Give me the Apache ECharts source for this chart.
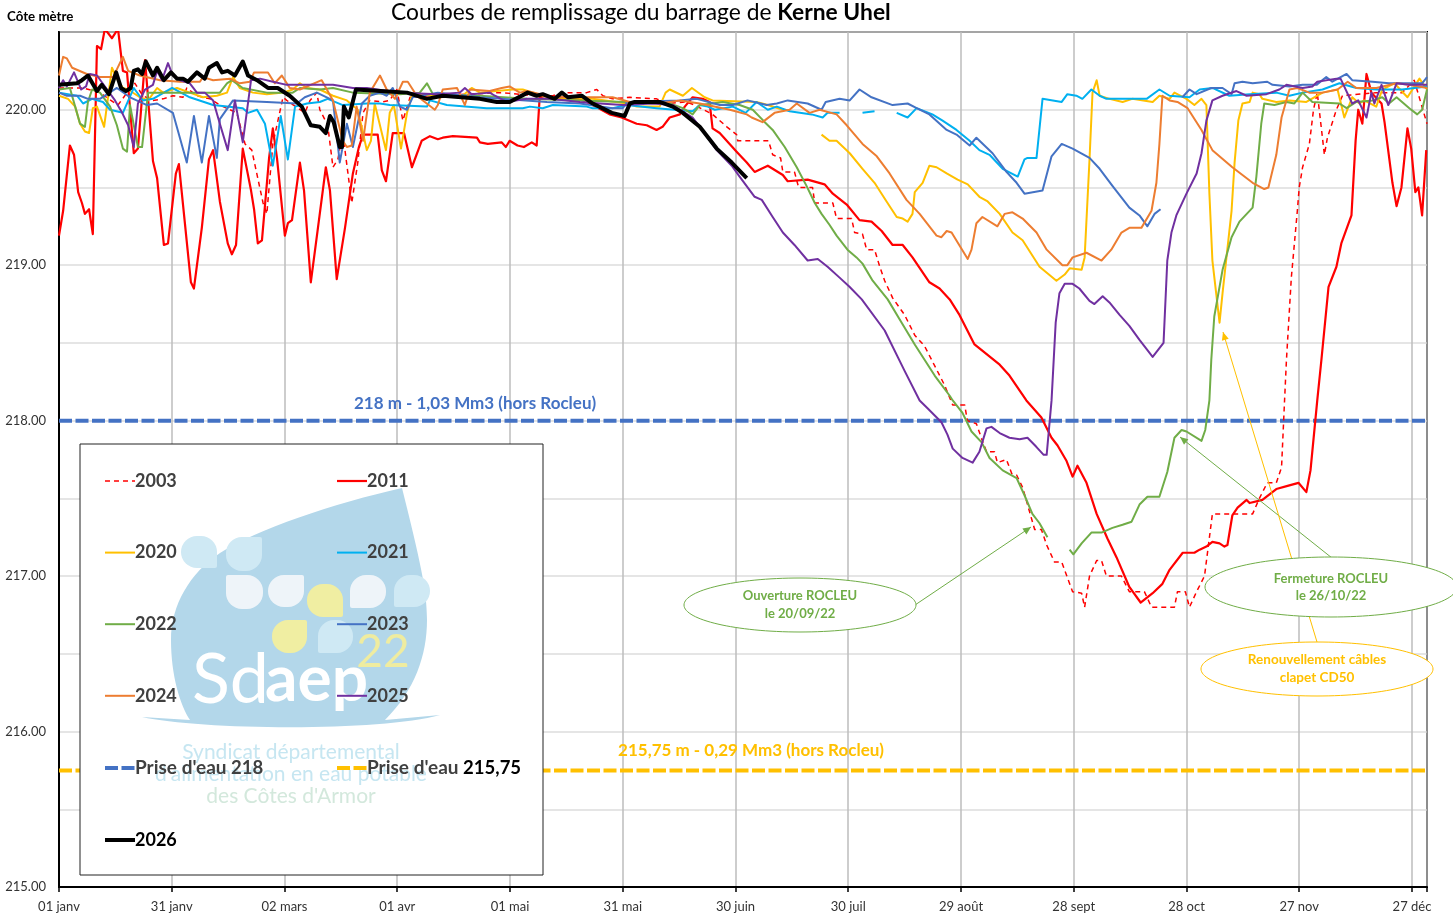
<!DOCTYPE html>
<html><head><meta charset="utf-8">
<script src="https://cdn.jsdelivr.net/npm/echarts@6/dist/echarts.min.js"></script>
<style>html,body{margin:0;padding:0;background:#fff}#c{width:1453px;height:918px}</style>
</head><body><div id="c"></div>
<script>
const xTickLabels=["01 janv","31 janv","02 mars","01 avr","01 mai","31 mai","30 juin","30 juil","29 août","28 sept","28 oct","27 nov","27 déc"];
const s2003=[[0,220.14],[6.4,220.14],[10.9,220.11],[14.4,220.05],[15.7,220.03],[18.1,220.11],[20.2,220.17],[22.3,220.09],[25,220.06],[27.7,220.07],[30.3,220.09],[33,220.08],[34,220.14],[36.7,220.09],[40.2,220.07],[42.8,220.03],[47.3,219.98],[49.5,219.78],[51.3,219.74],[54.3,219.40],[55.3,219.33],[56.9,219.78],[59.6,220.08],[60.6,220.06],[65.4,219.98],[66.8,220.06],[68.6,220.11],[69.4,220.00],[71.5,219.90],[72.9,219.63],[74.2,219.68],[75.5,219.85],[77.9,219.40],[79.5,219.66],[80.9,219.98],[82.7,220.06],[85.9,220.05],[88,220.06],[89.9,220.13],[91.5,219.93],[93.4,220.08],[98.7,220.09],[117.8,220.11],[127.1,220.09],[131.4,220.09],[134,220.11],[137.8,220.11],[140.4,220.11],[143.1,220.13],[144.7,220.09],[147.3,220.07],[151.9,220.08],[159,220.07],[161.7,220.04],[167,220.05],[169.1,220.03],[173.9,219.97],[177.7,219.89],[180.3,219.84],[180.6,219.80],[188.8,219.80],[189.9,219.71],[192,219.69],[192.6,219.60],[195.7,219.60],[196.8,219.50],[200.5,219.50],[201.1,219.40],[205.9,219.40],[206.9,219.30],[210.9,219.30],[211.7,219.21],[213.8,219.20],[214.9,219.10],[217,219.10],[218.4,218.99],[219.7,218.90],[221.8,218.79],[225,218.68],[227.7,218.55],[230.3,218.48],[235.6,218.23],[237.8,218.10],[241,218.10],[241.7,218.00],[244.1,217.98],[245.7,217.87],[246.8,217.80],[248.9,217.80],[249.7,217.73],[252.1,217.75],[253.5,217.66],[254.8,217.65],[256.4,217.57],[259.6,217.30],[261.4,217.30],[262.8,217.20],[264.9,217.09],[266.8,217.09],[269.7,216.90],[272.1,216.89],[272.9,216.80],[274.2,217.00],[276.1,217.10],[277.4,217.10],[278.7,217.00],[282.7,217.00],[284.8,216.90],[288.8,216.90],[290.7,216.80],[296.8,216.80],[297.6,216.90],[299.7,216.90],[300.8,216.80],[302.7,216.90],[304.8,217.00],[306.9,217.40],[317.6,217.40],[319.4,217.50],[321.5,217.60],[323.9,217.60],[325.3,217.70],[326.1,218.13],[326.6,218.39],[327.9,218.92],[329.5,219.35],[330,219.50],[330.9,219.63],[332.7,219.78],[333.8,220.00],[334.8,220.11],[336.7,219.71],[337.5,219.82],[339.9,220.00],[341.5,220.09],[350.5,220.11],[357.4,220.11],[360.6,220.19],[364,219.91]];
const s2011=[[0,219.19],[1.1,219.35],[2.9,219.77],[4,219.71],[5.1,219.47],[6.1,219.40],[6.9,219.33],[8,219.36],[9,219.20],[10.1,220.41],[11.2,220.39],[12.2,220.52],[14.1,220.46],[15.7,220.52],[17,220.25],[18.1,220.24],[19.9,219.72],[21,219.75],[22.9,220.32],[25,219.67],[26.1,219.56],[27.9,219.13],[29,219.14],[31.1,219.59],[31.9,219.65],[35.1,218.89],[35.9,218.85],[38,219.24],[39.9,219.68],[41,219.74],[42.8,219.41],[44.9,219.14],[46,219.07],[47.1,219.13],[48.9,219.75],[51.1,219.48],[51.9,219.36],[52.9,219.14],[54,219.16],[55.9,219.69],[56.9,219.88],[58,219.69],[60.1,219.19],[60.9,219.27],[62,219.29],[64.1,219.66],[65.2,219.48],[67,218.89],[68.9,219.24],[71,219.63],[72.1,219.48],[73.9,218.91],[76.1,219.24],[78.2,219.59],[79.8,219.76],[80.9,219.84],[84.8,219.84],[85.9,219.61],[87,219.54],[88.8,219.85],[91.8,219.85],[93.9,219.63],[96.5,219.80],[98.7,219.83],[100.8,219.81],[102.1,219.82],[104.8,219.83],[111.2,219.82],[112,219.79],[114.1,219.78],[117.8,219.79],[118.9,219.76],[119.9,219.80],[122,219.77],[123.7,219.76],[125.8,219.79],[127.1,219.77],[127.9,220.08],[129.8,220.09],[133.3,220.08],[138.6,220.07],[142,220.03],[146.5,219.97],[149.7,219.95],[153.7,219.91],[156.4,219.90],[159,219.87],[160.6,219.89],[162.5,219.95],[165.2,219.97],[166.5,220.02],[168.6,220.08],[171.3,220.07],[173.1,220.05],[173.9,219.88],[175.8,219.85],[180.3,219.73],[183,219.66],[185.1,219.60],[188.6,219.64],[192.6,219.58],[193.9,219.54],[199.2,219.55],[203.7,219.52],[205.9,219.46],[209.6,219.39],[213,219.29],[216.2,219.28],[218.9,219.22],[221.8,219.13],[224.5,219.13],[227.1,219.05],[231.6,218.89],[234.3,218.85],[237,218.78],[239.6,218.68],[243.6,218.49],[250.3,218.36],[252.9,218.29],[257.4,218.13],[261.4,218.02],[264.1,217.89],[265.7,217.84],[268.1,217.74],[269.7,217.64],[271,217.71],[273.4,217.60],[276.1,217.40],[279,217.24],[281.4,217.12],[284.8,216.93],[287.8,216.83],[291,216.89],[293.6,216.95],[295.5,217.04],[299,217.15],[302.1,217.15],[303.5,217.17],[305.3,217.19],[306.9,217.22],[308.8,217.21],[310.1,217.19],[310.9,217.20],[312.2,217.39],[313.6,217.44],[316,217.49],[316.8,217.47],[320.2,217.49],[323.9,217.56],[326.9,217.58],[329.8,217.60],[331.9,217.54],[333,217.68],[334.8,218.13],[335.9,218.39],[337.8,218.86],[339.9,218.99],[341.2,219.14],[343.9,219.32],[345,219.80],[345.7,220.00],[346.8,219.91],[347.9,220.23],[349.2,220.11],[351.9,220.04],[352.7,219.92],[354.8,219.53],[355.9,219.38],[357.2,219.50],[358.8,219.88],[359.8,219.75],[360.9,219.47],[361.7,219.50],[362.7,219.32],[363.8,219.74]];
const s2020=[[0,220.09],[2.4,220.07],[4.3,220.02],[5.6,219.91],[6.9,219.86],[8,219.85],[9,220.01],[10.1,220.02],[12,219.89],[14.1,220.27],[15.4,220.20],[17,220.14],[18.4,220.13],[21.5,220.08],[23.7,220.06],[26.1,220.14],[27.7,220.11],[31.4,220.14],[34.8,220.11],[38.3,220.08],[42,220.09],[44.7,220.11],[46.3,220.21],[48.1,220.14],[51.6,220.11],[55.3,220.10],[59.6,220.11],[62.2,220.13],[64.1,220.17],[66,220.14],[69.4,220.13],[72.9,220.09],[76.6,220.06],[79.5,220.00],[81.9,219.74],[83,219.80],[84,220.04],[87,219.74],[88,219.98],[89.1,220.03],[91,219.75],[92.6,219.98],[93.9,220.09],[96.8,220.10],[101.3,220.08],[107.4,220.09],[109.8,220.14],[112,220.11],[120.7,220.13],[123.4,220.13],[131.4,220.07],[137.8,220.07],[142,220.07],[151.1,220.04],[153.7,220.02],[159.8,220.02],[161.4,220.11],[162.5,220.13],[166,220.09],[168.4,220.14],[171.8,220.08],[173.9,220.06],[185.6,220.05],[188.6,220.03],[192.6,220.00],[197,null],[202.9,219.84],[205,219.80],[206.9,219.80],[210.4,219.72],[213.8,219.62],[217,219.53],[220.2,219.41],[222.9,219.31],[224.5,219.30],[225.8,219.28],[227.1,219.33],[227.7,219.47],[229.8,219.53],[231.6,219.64],[233.5,219.63],[236.2,219.59],[239.1,219.55],[241.8,219.52],[244.9,219.44],[247.1,219.41],[250.3,219.33],[253.7,219.21],[256.4,219.16],[260.9,218.99],[265.4,218.90],[267.6,218.94],[268.9,218.98],[272.1,218.97],[272.9,219.05],[274.2,219.68],[275,220.11],[276.1,220.19],[276.9,220.09],[279.5,220.07],[283,220.05],[285.6,220.07],[291,220.05],[292.8,220.09],[295.5,220.07],[296.8,220.11],[300,220.07],[302.1,220.03],[304,220.07],[305.3,220.03],[306.1,219.46],[306.9,219.03],[308.8,218.63],[309.6,218.82],[312,219.35],[312.8,219.66],[313.8,219.93],[314.9,220.04],[316.8,220.05],[317.6,220.11],[319.4,220.10],[320.2,220.07],[323.9,220.05],[327.4,220.06],[331.9,220.05],[336.2,220.11],[340.2,220.13],[342,219.95],[344.1,220.08],[346,220.04],[347.3,220.06],[350.5,220.02],[352.1,220.13],[355.3,220.17],[358.8,220.08],[362,220.20],[364,220.13]];
const s2021=[[0,220.11],[4.8,220.09],[6.4,220.04],[8.8,220.07],[11.7,220.05],[13.6,220.00],[17,219.98],[19.9,220.14],[22.3,220.06],[25,220.07],[30.1,220.14],[34.8,220.08],[41,220.03],[44.7,220.02],[48.9,220.01],[50.3,219.98],[52.7,220.00],[54.8,219.91],[56.9,219.64],[59,219.96],[60.9,219.68],[62.8,220.02],[66,220.04],[69.4,220.05],[71.5,220.07],[75.5,220.03],[81.9,220.04],[85.4,220.04],[88,220.03],[97.9,220.02],[98.7,220.06],[103.2,220.03],[113.8,220.01],[123.4,220.01],[125.3,220.02],[128.7,220.01],[131.4,220.03],[140.4,220.02],[142,220.01],[147.3,220.01],[151.1,220.03],[159,220.01],[168.6,219.99],[170.5,220.03],[172.6,220.02],[174.5,220.00],[179.3,220.02],[182.7,219.98],[185.6,220.05],[188.6,220.00],[191,220.02],[194.4,219.99],[200.3,219.97],[203.2,219.95],[204.5,219.98],[207.7,219.98],[210,null],[213.8,219.98],[217,219.99],[220,null],[222.9,219.98],[225.8,219.95],[228.2,220.01],[232.4,219.97],[235.1,219.93],[238.8,219.87],[242.3,219.80],[244.9,219.74],[247.6,219.71],[251.1,219.62],[255.1,219.57],[256.9,219.68],[257.7,219.69],[260.1,219.69],[261.7,220.07],[266.8,220.05],[268.3,220.10],[270.7,220.09],[272.3,220.07],[274.7,220.13],[276.9,220.09],[278.7,220.07],[283,220.07],[289.4,220.07],[292.8,220.13],[295.5,220.09],[300.8,220.08],[303.5,220.13],[306.9,220.14],[311.4,220.09],[316.8,220.10],[323.9,220.11],[327.4,220.09],[330.9,220.11],[336.2,220.13],[340.7,220.17],[345.2,220.14],[350.5,220.13],[357.4,220.13],[364,220.15]];
const s2022=[[0,220.13],[2.9,220.14],[4.3,220.02],[5.6,219.91],[6.9,219.89],[7.7,220.05],[8.8,220.13],[10.9,220.11],[13.6,220.02],[15.4,219.90],[17,219.75],[18.1,219.73],[18.9,220.03],[21,219.76],[22.1,219.76],[23.7,220.11],[37.5,220.11],[42.8,220.11],[44.7,220.17],[46,220.19],[48.9,220.14],[55.3,220.11],[62.2,220.11],[64.1,220.14],[69.4,220.13],[72.9,220.14],[78.2,220.11],[90.7,220.10],[96,220.11],[97.9,220.17],[99.5,220.10],[112,220.09],[124.5,220.07],[138.6,220.06],[162.5,220.04],[166,220.01],[168.6,219.97],[170.5,220.03],[173.9,220.04],[176.6,220.05],[181.1,220.03],[184.6,220.00],[187.8,219.92],[189.9,219.87],[193.1,219.76],[196.3,219.63],[198.9,219.51],[201.1,219.40],[202.9,219.33],[205,219.26],[206.9,219.19],[209.8,219.10],[212.2,219.05],[213.8,219.01],[216.5,218.90],[220.5,218.78],[223.7,218.65],[227.7,218.49],[233,218.29],[237,218.16],[237.8,218.13],[240.4,218.05],[242.8,217.93],[245.5,217.86],[247.6,217.76],[251.1,217.68],[254.8,217.63],[256.9,217.52],[259,217.40],[260.9,217.34],[263,217.25],[266,null],[268.9,217.17],[269.9,217.14],[272.1,217.21],[274.7,217.28],[277.4,217.28],[280.3,217.31],[283,217.33],[285.4,217.35],[287.5,217.46],[289.6,217.51],[292.8,217.51],[294.9,217.67],[296.8,217.89],[298.7,217.94],[300,217.93],[304,217.87],[305,217.94],[306.1,218.13],[306.6,218.39],[307.4,218.67],[309.6,218.97],[312,219.18],[314.1,219.28],[317.6,219.37],[318.6,219.57],[319.9,219.91],[320.7,220.04],[323.4,220.03],[326.6,220.05],[328.7,220.04],[330.9,220.11],[333.5,220.05],[340.7,220.04],[342.6,220.01],[345.2,220.05],[349.5,220.06],[352.1,220.08],[353.9,220.04],[355.9,220.08],[359.3,220.01],[361.4,219.97],[362.7,220.00],[364,220.13]];
const s2023=[[0,220.11],[2.1,220.09],[5.6,220.09],[7.7,220.07],[10.9,220.07],[15.4,220.14],[18.9,220.08],[23.4,220.03],[26.1,220.04],[30.3,219.98],[34,219.66],[35.9,219.96],[38,219.66],[39.9,219.96],[42,219.69],[42.8,219.94],[46.3,220.06],[55.3,220.05],[63.3,220.04],[65.4,220.08],[68.6,220.11],[72.9,220.06],[74.7,219.66],[76.6,219.91],[78.2,219.76],[80.6,220.04],[82.7,220.09],[85.4,220.11],[87.2,220.09],[88.8,220.14],[90.7,220.02],[92.6,220.00],[94.1,220.08],[100.8,220.11],[112,220.08],[129.8,220.05],[138.6,220.04],[147.3,220.01],[150,220.01],[151.3,220.05],[165.2,220.06],[169.7,220.07],[175.8,220.03],[179.3,220.03],[183.2,220.06],[188.3,220.03],[191,220.04],[193.9,220.06],[199.2,220.04],[202.9,220.00],[204,220.05],[207.7,220.07],[210.4,220.06],[213,220.13],[216.2,220.08],[221.8,220.03],[225.8,220.04],[228.2,220.01],[231.6,219.97],[236.2,219.87],[238.8,219.84],[242.3,219.77],[244.1,219.82],[248.4,219.72],[252.1,219.60],[254.8,219.53],[256.9,219.46],[261.7,219.48],[264.1,219.70],[266.8,219.78],[269.7,219.75],[274.2,219.69],[276.9,219.62],[280.3,219.51],[284.8,219.37],[287.5,219.32],[289.6,219.25],[291.5,219.33],[293.1,219.36],[295,null],[298.9,220.08],[300.8,220.13],[302.7,220.10],[306.6,220.14],[309.6,220.14],[312,220.10],[312.8,220.17],[314.9,220.18],[317.6,220.17],[321.5,220.18],[322.9,220.16],[327.4,220.15],[330.9,220.16],[334.6,220.16],[337.2,220.21],[338.8,220.18],[342.6,220.23],[344.1,220.19],[349.5,220.18],[353.9,220.17],[362.7,220.17],[364,220.21]];
const s2024=[[0,220.22],[1.1,220.34],[2.1,220.33],[3.5,220.27],[7.4,220.23],[10.9,220.21],[14.4,220.21],[17,220.34],[18.4,220.25],[21.5,220.22],[26.9,220.19],[32.2,220.18],[37.5,220.18],[38.3,220.21],[41,220.19],[45.5,220.20],[48.1,220.17],[50.8,220.18],[51.9,220.24],[55.6,220.24],[57.4,220.17],[59.3,220.22],[61.4,220.14],[64.1,220.13],[69.9,220.19],[72.9,220.06],[75.5,219.80],[76.6,219.76],[77.9,219.77],[79.2,220.02],[80.9,219.80],[82.7,220.11],[85.4,220.22],[87.2,220.13],[89.4,220.07],[91.5,220.18],[92.8,220.18],[95.2,220.09],[100,220.00],[100.8,220.03],[102.1,220.13],[105.9,220.14],[108,220.03],[109.3,220.13],[114.6,220.12],[117.8,220.14],[119.9,220.15],[122.6,220.11],[124.5,220.12],[131.4,220.08],[147.3,220.08],[151.9,220.05],[159.8,220.04],[165.2,220.06],[170.5,220.04],[178.5,220.00],[183,219.97],[184.3,219.95],[187.2,219.92],[190.4,219.98],[194.4,220.00],[196.3,220.04],[199.7,219.98],[202.4,220.00],[206.9,219.97],[209.6,219.90],[213.8,219.78],[217.6,219.70],[221,219.59],[225.5,219.42],[229,219.33],[233.5,219.19],[234.8,219.18],[236.2,219.22],[237.5,219.21],[241.8,219.04],[242.8,219.10],[244.1,219.27],[245.7,219.31],[249.7,219.25],[251.6,219.33],[253.7,219.34],[256.4,219.30],[260.1,219.21],[262.8,219.10],[267,219.00],[268.3,219.00],[269.7,219.05],[273.4,219.08],[277.4,219.03],[280,219.10],[282.7,219.21],[284.8,219.24],[288,219.24],[290.7,219.35],[292,219.53],[292.8,219.78],[293.6,220.09],[295.5,220.06],[297.6,220.05],[300.3,220.01],[304,219.87],[306.9,219.74],[312.2,219.63],[317.6,219.53],[320.7,219.49],[321.8,219.50],[323.9,219.71],[325.3,219.95],[327.4,220.13],[329.5,220.14],[332.7,220.11],[336.2,220.11],[340.2,220.13],[342.9,220.18],[345.2,220.14],[350.5,220.14],[355.9,220.17],[359.3,220.16],[364,220.14]];
const s2025=[[0,220.14],[1.1,220.19],[2.1,220.15],[4,220.24],[5.9,220.13],[7.2,220.15],[8.2,220.23],[10.1,220.22],[12.8,220.13],[14.9,220.06],[16.8,219.98],[18.4,219.90],[19.9,219.76],[21,220.04],[22.9,220.13],[25,220.16],[26.1,220.25],[27.4,220.19],[29,220.30],[30.3,220.22],[32.2,220.19],[34.8,220.17],[36.7,220.11],[38.8,220.11],[41,220.06],[42.8,219.91],[44.9,219.74],[46.8,220.06],[48.9,219.79],[51.1,220.19],[53.5,220.20],[56.9,220.18],[60.6,220.16],[72.9,220.16],[78.2,220.14],[81.9,220.14],[90.7,220.11],[100.8,220.10],[106.6,220.11],[108,220.14],[109.8,220.10],[114.6,220.11],[116,220.09],[119.1,220.05],[124.5,220.07],[130.6,220.07],[138.6,220.05],[143.9,220.04],[150,220.03],[158,220.04],[163.3,220.03],[168.6,219.95],[170.5,219.89],[175,219.74],[179,219.64],[181.1,219.57],[185.1,219.44],[187,219.42],[189.9,219.31],[192.6,219.21],[195.7,219.13],[199.2,219.03],[201.9,219.04],[204.5,218.99],[207.7,218.92],[210.4,218.86],[213.6,218.78],[219.7,218.58],[225,218.32],[229,218.13],[231.1,218.08],[234.8,217.99],[236.4,217.91],[237.8,217.82],[240.4,217.76],[243.1,217.73],[244.9,217.80],[246.8,217.95],[248.1,217.96],[250.3,217.92],[252.9,217.89],[255.6,217.88],[257.7,217.89],[260.1,217.83],[262,217.78],[262.8,217.78],[264.1,218.13],[265.2,218.63],[266.2,218.82],[267.6,218.88],[269.7,218.88],[271.5,218.85],[274.2,218.77],[275.5,218.75],[277.7,218.80],[279.5,218.76],[282.2,218.68],[284.8,218.61],[287.5,218.52],[291,218.41],[293.9,218.50],[294.9,219.03],[296,219.21],[297.3,219.32],[300,219.46],[302.7,219.59],[304,219.72],[305.3,219.93],[306.9,220.06],[309.6,220.09],[313.3,220.12],[316,220.09],[321.3,220.10],[324.7,220.13],[326.6,220.16],[330.9,220.14],[333.5,220.15],[334.8,220.18],[339.9,220.20],[341,220.20],[344.1,220.04],[345.7,220.06],[347.9,219.95],[349.2,220.11],[350,220.04],[351.9,220.16],[353.7,220.03],[355.9,220.17],[359.3,220.16],[364,220.16]];
const s2026=[[0,220.16],[4.8,220.17],[6.1,220.19],[7.7,220.22],[10.1,220.12],[11.4,220.16],[13.3,220.10],[15.2,220.24],[16.5,220.14],[17.8,220.12],[19.1,220.14],[19.9,220.25],[21,220.26],[22.1,220.23],[23.1,220.31],[25,220.22],[26.1,220.27],[27.9,220.19],[29.8,220.24],[31.4,220.20],[33,220.20],[34.3,220.18],[36.7,220.24],[38.8,220.20],[39.9,220.27],[42,220.30],[43.4,220.24],[44.9,220.25],[46.8,220.22],[48.9,220.31],[50.3,220.22],[52.7,220.19],[55.6,220.14],[58.2,220.14],[61.4,220.09],[64.6,220.02],[67,219.90],[69.4,219.89],[71,219.85],[72.1,219.96],[73.1,219.92],[74.7,219.76],[75.3,219.76],[75.8,220.02],[77.1,219.95],[79,220.13],[85.4,220.12],[92.6,220.11],[97.9,220.07],[102.1,220.09],[112,220.07],[116.5,220.05],[119.9,220.05],[124.7,220.11],[127.1,220.09],[128.7,220.10],[131.9,220.07],[133.8,220.11],[135.4,220.08],[139.1,220.09],[142,220.04],[147.1,219.98],[150.5,219.96],[151.9,220.04],[153.2,220.05],[159.8,220.05],[163.3,220.02],[166,219.98],[170.5,219.89],[175,219.75],[179,219.66],[183,219.56]];
const prise218=[[0,218],[364,218]];
const prise21575=[[0,215.75],[364,215.75]];

const font='Lato, "Open Sans", sans-serif';
const GREEN='#70AD47',YEL='#FFC000',BLUE='#4472C4';
const Z=5;
function line(name,data,color,width,dash){
  return {name,type:'line',data,symbol:'none',smooth:false,connectNulls:false,z:1,
    lineStyle:{color,width,type:dash||'solid',cap:'butt',join:'round'},itemStyle:{color},silent:true,animation:false,clip:true};
}
const txt=(x,y,text,color,size,weight,align)=>({type:'text',z:Z,z2:12,style:{x,y,text,fill:color,font:(weight||'normal')+' '+size+'px '+font,textAlign:align||'center',textVerticalAlign:'middle'}});
const ell=(cx,cy,rx,ry,c)=>({type:'ellipse',z:Z,z2:11,shape:{cx,cy,rx,ry},style:{fill:'#fff',stroke:c,lineWidth:1}});
const seg=(x1,y1,x2,y2,c)=>({type:'line',z:Z,z2:10,shape:{x1,y1,x2,y2},style:{stroke:c,lineWidth:1}});
const head=(pts,c)=>({type:'polygon',z:Z,z2:10,shape:{points:pts},style:{fill:c}});
const leaf=(x,y,w,h,c,r)=>({type:'rect',z:Z,z2:2,shape:{x,y,width:w,height:h,r},style:{fill:c}});
const wm=(x,y,text,color,size,weight)=>({type:'text',z:Z,z2:3,style:{x,y,text,fill:color,font:(weight||'normal')+' '+size+'px '+font,textAlign:'center',textVerticalAlign:'middle'}});
const LC=['#cfe9f4','#eef4f9','#f0eea2'];
echarts.graphic.registerShape('logoDrop',echarts.graphic.extendPath('M402 488 C335 503 255 530 220 553 C190 573 171 605 171 640 C171 675 180 705 190 720 L142 717 C200 730 380 732 440 715 L385 720 C415 690 427 655 427 620 C427 590 420 560 402 488 Z',{}));

const richBase={fontWeight:'bold',fontSize:18,fontFamily:font,height:20};
const legendBase={orient:'vertical',itemWidth:30,itemHeight:14,itemGap:53.6,selectedMode:false,padding:0,z:8,
  itemStyle:{opacity:0},lineStyle:{width:'inherit'},
  formatter:n=>{
    if(n==="Prise d'eau 215,75")return "{p|Prise d'eau }{b|215,75}";
    if(n==="Prise d'eau 218")return "{p|Prise d'eau }{n|218}";
    if(n==='2026')return '{c|2026}';
    return '{a|'+n+'}';
  },
  textStyle:{rich:{
    a:Object.assign({},richBase,{color:'#404040',padding:[0,0,0,-5]}),
    c:Object.assign({},richBase,{color:'#000',padding:[0,0,0,-5]}),
    p:Object.assign({},richBase,{color:'#404040',fontSize:19,padding:[0,0,0,-5]}),
    n:Object.assign({},richBase,{color:'#404040',fontSize:18.5}),
    b:Object.assign({},richBase,{color:'#000',fontSize:18.5})
  }}};

const chart=echarts.init(document.getElementById('c'),null,{renderer:'canvas'});
chart.setOption({
  animation:false,backgroundColor:'#fff',
  title:{left:391,top:1,padding:0,text:"{r|Courbes de remplissage du barrage de }{b|Kerne Uhel}",
    textStyle:{rich:{r:{fontSize:22.8,fontWeight:'normal',fontFamily:font,color:'#000'},b:{fontSize:22.8,fontWeight:'bold',fontFamily:font,color:'#000'}}}},
  grid:{left:59,right:26,top:32,bottom:31,show:true,borderColor:'#000',borderWidth:2,backgroundColor:'transparent'},
  xAxis:{type:'value',min:0,max:364,interval:30,
    axisLine:{show:true,lineStyle:{color:'#000',width:2}},axisTick:{show:true,length:5,lineStyle:{color:'#000',width:1.5}},
    axisLabel:{fontFamily:font,fontSize:13,color:'#333',margin:13,hideOverlap:false,
      formatter:v=>v%30===0?(xTickLabels[v/30]||''):''},
    splitLine:{show:true,lineStyle:{color:'#bdbdbd',width:1.5}}},
  yAxis:{type:'value',min:215,max:220.5,interval:0.5,
    axisLine:{show:true,lineStyle:{color:'#000',width:2}},axisTick:{show:false},
    axisLabel:{fontFamily:font,fontSize:13,color:'#333',margin:13,
      formatter:v=>Number.isInteger(v)?v.toFixed(2):''},
    splitLine:{show:true,lineStyle:{color:'#dcdcdc',width:1.5}}},
  legend:[
    Object.assign({},legendBase,{left:103,top:472,data:['2003','2020','2022','2024','Prise d\'eau 218','2026']}),
    Object.assign({},legendBase,{left:335,top:472,data:['2011','2021','2023','2025','Prise d\'eau 215,75']})
  ],
  series:[
    line("Prise d'eau 218",prise218,BLUE,4,[13,3.5]),
    line("Prise d'eau 215,75",prise21575,YEL,4,[13,3.5]),
    line('2003',s2003,'#FF0000',1.5,[5,4]),
    line('2011',s2011,'#FF0000',2.2),
    line('2020',s2020,YEL,2),
    line('2021',s2021,'#00B0F0',2),
    line('2022',s2022,GREEN,2),
    line('2023',s2023,BLUE,2),
    line('2024',s2024,'#ED7D31',2),
    line('2025',s2025,'#7030A0',2),
    line('2026',s2026,'#000000',4)
  ],
  graphic:{elements:[
    txt(7,17,'Côte mètre','#000',13.3,'bold','left'),
    txt(475,404,'218 m - 1,03 Mm3 (hors Rocleu)',BLUE,17,'bold'),
    txt(751,751,'215,75 m - 0,29 Mm3 (hors Rocleu)',YEL,17,'bold'),
    {type:'rect',z:Z,z2:0,shape:{x:80,y:444,width:463,height:431},style:{fill:'#fff',stroke:'#222',lineWidth:1}},
    {type:'logoDrop',z:Z,z2:1,style:{fill:'#b3d7ea'}},
    leaf(181,536,36,32,LC[0],[16,16,2,16]),leaf(226,537,36,34,LC[0],[16,2,16,16]),
    leaf(226,575,37,34,LC[1],[2,16,16,16]),leaf(268,575,36,32,LC[1],[16,2,16,16]),
    leaf(307,584,36,33,LC[2],[16,16,2,16]),leaf(350,575,36,33,LC[1],[16,16,16,2]),
    leaf(394,575,36,32,LC[0],[16,16,16,2]),leaf(272,620,35,33,LC[2],[16,2,16,16]),leaf(318,620,35,33,LC[0],[16,16,16,2]),
    {type:'text',z:Z,z2:3,style:{x:192,y:680,text:'Sd',fill:'#fff',font:'normal 70px '+font,textAlign:'left',textVerticalAlign:'middle'}},
    {type:'text',z:Z,z2:3,style:{x:265,y:680,text:'aep',fill:'#fff',font:'bold 64px '+font,textAlign:'left',textVerticalAlign:'middle'}},
    wm(383,652,'22','#efeca0',46),
    wm(291,752,'Syndicat départemental','#c6e6f1',21),
    wm(291,774,"d'alimentation en eau potable",'#c6e6f1',21),
    wm(291,796,"des Côtes d'Armor",'#d3e8dc',21),
    seg(915,605,1031,527,GREEN),head([[1031,527],[1026.4,534.4],[1022.4,528.6]],GREEN),
    seg(1332,558,1180,437,GREEN),head([[1180,437],[1188.4,439.3],[1184,444.7]],GREEN),
    seg(1317,642,1223,332,YEL),head([[1223,332],[1228.7,338.7],[1221.9,340.7]],YEL),
    ell(800,605,116,27,GREEN),ell(1331,587,126,30,GREEN),ell(1317,669,116,27,YEL),
    txt(800,596,'Ouverture ROCLEU',GREEN,13,'bold'),txt(800,614,'le 20/09/22',GREEN,13,'bold'),
    txt(1331,579,'Fermeture ROCLEU',GREEN,13,'bold'),txt(1331,596,'le 26/10/22',GREEN,13,'bold'),
    txt(1317,660,'Renouvellement câbles',YEL,13.5,'bold'),txt(1317,678,'clapet CD50',YEL,13.5,'bold')
  ]}
});
</script></body></html>
